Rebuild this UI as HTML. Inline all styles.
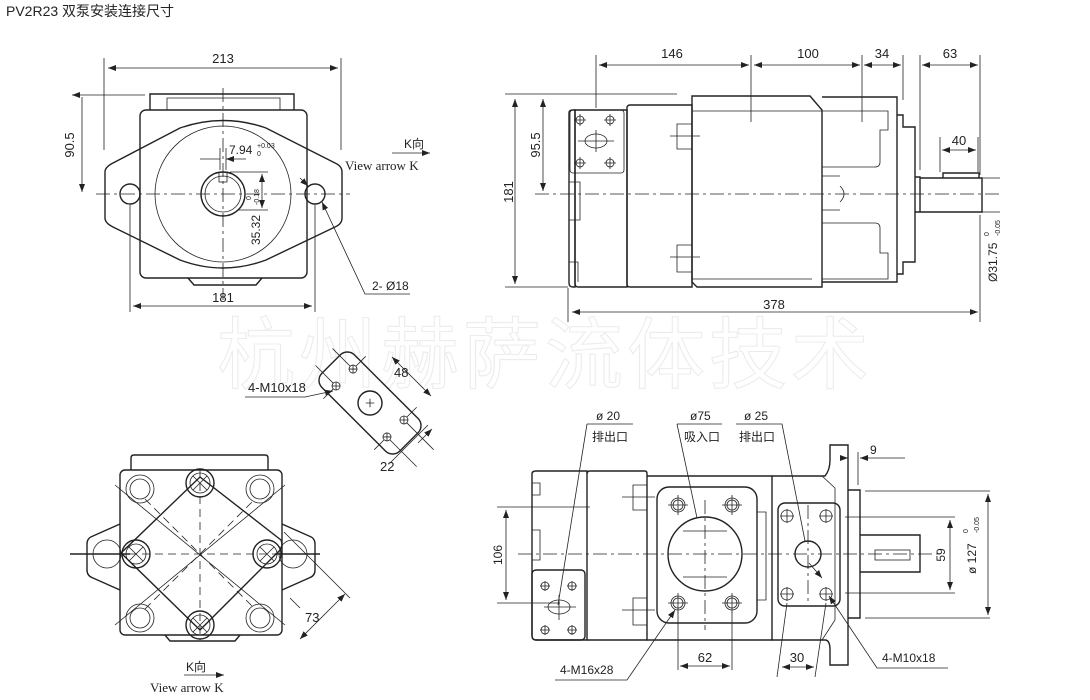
<!DOCTYPE html>
<html><head><meta charset="utf-8"><style>
html,body{margin:0;padding:0;background:#fff}
svg{display:block}
text{font-family:"Liberation Sans","Noto Sans CJK SC",sans-serif;font-size:13px;fill:#222}
.s{font-family:"Liberation Serif","Noto Sans CJK SC",serif}
.o{fill:none;stroke:#222;stroke-width:1.4}
.t{fill:none;stroke:#222;stroke-width:0.8}
.c{fill:none;stroke:#222;stroke-width:0.8;stroke-dasharray:14 4 3 4}
.d{fill:none;stroke:#222;stroke-width:0.8;stroke-dasharray:8 5}
</style></head><body>
<svg width="1090" height="700" viewBox="0 0 1090 700" xmlns="http://www.w3.org/2000/svg">
<defs>
<marker id="a" markerWidth="8" markerHeight="6" refX="8" refY="3" orient="auto-start-reverse" markerUnits="userSpaceOnUse"><path d="M0,0L8,3L0,6z" fill="#222"/></marker>
</defs>
<!-- watermark -->
<text x="545" y="382" text-anchor="middle" style="font-size:78px;fill:none;stroke:#ececec;stroke-width:1.1;letter-spacing:4px">杭州赫萨流体技术</text>

<text x="6" y="16" style="font-size:14px">PV2R23 双泵安装连接尺寸</text>

<!-- ============ TOP LEFT VIEW ============ -->
<path class="o" d="M150,110 V94 H294 V110"/>
<path class="t" d="M167,110 V98 H280 V110"/>
<rect class="o" x="140" y="110" width="167" height="168" rx="6"/>
<path class="o" d="M188,278 L194,285 H256 L262,278"/>
<path class="o" d="M113,163 L180,128 Q223,113 266,128 L335,163 Q342,166 342,172 V218 Q342,224 335,227 L266,260 Q223,276 180,260 L113,227 Q105,223 105,218 V172 Q105,167 113,163Z" fill="#fff"/>
<circle class="t" cx="223" cy="194" r="68"/>
<circle class="o" cx="223" cy="194" r="22"/>
<circle class="t" cx="223" cy="194" r="18"/>
<rect class="t" x="219" y="172" width="8" height="10"/>
<circle class="o" cx="130" cy="194" r="10"/>
<circle class="o" cx="315" cy="194" r="10"/>
<path class="c" d="M96,194 H350 M223,88 V300"/>
<path class="t" d="M130,205 V312 M315,205 V312 M104,58 V150 M341,58 V150"/>
<path class="t" d="M108,68 H338" marker-start="url(#a)" marker-end="url(#a)"/>
<text x="223" y="63" text-anchor="middle">213</text>
<path class="t" d="M133,306 H312" marker-start="url(#a)" marker-end="url(#a)"/>
<text x="223" y="302" text-anchor="middle">181</text>
<path class="t" d="M72,95 H145 M82,97 V192" marker-start="url(#a)" marker-end="url(#a)"/>
<text transform="translate(74,145) rotate(-90)" text-anchor="middle">90.5</text>
<path class="t" d="M220,148 V170 M226,148 V170"/>
<path class="t" d="M200,159 H220 M246,159 H226" marker-end="url(#a)"/>
<text x="229" y="154" style="font-size:12px">7.94</text>
<text x="257" y="148" style="font-size:7px">+0.03</text>
<text x="257" y="156" style="font-size:7px">0</text>
<path class="t" d="M230,172 H268 M238,210 H268"/>
<path class="t" d="M262,174 V208" marker-start="url(#a)" marker-end="url(#a)"/>
<text transform="translate(260,230) rotate(-90)" text-anchor="middle" style="font-size:12px">35.32</text>
<text transform="translate(251,200) rotate(-90)" style="font-size:7px">0</text>
<text transform="translate(259,205) rotate(-90)" style="font-size:7px">-0.18</text>
<path class="t" d="M300,178 L308,186"  marker-end="url(#a)"/>
<path class="t" d="M410,294 H365 L322,202" marker-end="url(#a)"/>
<text x="372" y="290" style="font-size:12px">2- Ø18</text>
<text x="404" y="148" style="font-size:12px">K向</text>
<path class="t" d="M392,153 H430" marker-end="url(#a)"/>
<text x="345" y="170" class="s" style="font-size:13px">View arrow K</text>

<!-- ============ TOP RIGHT VIEW ============ -->
<path class="o" d="M575,110 H627 V287 H578 Q575,287 575,283 Z" fill="#fff"/>
<path class="o" d="M569,113 Q569,110 573,110 H575 V287 H573 Q569,287 569,283 Z"/>
<path class="t" d="M569,182 H580 V220 H569 M569,262 H578 V282"/>
<rect class="t" x="570" y="110" width="54" height="63" rx="3"/>
<path class="o" d="M627,107 Q628,105 630,105 H692 V287 H630 Q627,287 627,284 Z"/>
<path class="o" d="M692,96 H810 L822,110 V287 H697 L692,282 Z"/>
<path class="t" d="M692,111 H822 M692,279 H812"/>
<path class="o" d="M822,97 H897 V282 H822"/>
<path class="t" d="M822,111 H888 V130 H880 V162 Q880,167 875,167 H822 M822,223 H875 Q880,223 880,228 V253 H888 V279 H822"/>
<path class="t" d="M822,176 H840 M822,210 H840 M840,186 Q848,194 840,202"/>
<path class="o" d="M897,115 H903 V127 H915 V262 H903 V274 H897"/>
<path class="o" d="M915,177 H920 V212 H915 M920,178 H982 V212 H920 M943,178 V173 H979 V178"/>
<path class="t" d="M677,124 H692 V149 H677Z M677,245 H692 V272 H677Z"/>
<path class="t" d="M670,136 H700 M670,257 H700"/>
<g class="t">
<circle cx="580" cy="120" r="4"/><circle cx="610" cy="120" r="4"/><circle cx="580" cy="163" r="4"/><circle cx="610" cy="163" r="4"/>
<ellipse cx="596" cy="141" rx="11" ry="7"/>
<path d="M574,120h12M580,114v12M604,120h12M610,114v12M574,163h12M580,157v12M604,163h12M610,157v12M578,141h36M596,130v22"/>
</g>
<path class="c" d="M535,194 H1000"/>
<path class="t" d="M596,55 V108 M751,55 V122 M862,55 V122 M903,55 V100 M920,55 V170 M980,55 V175"/>
<path class="t" d="M599,65 H749" marker-start="url(#a)" marker-end="url(#a)"/>
<text x="672" y="58" text-anchor="middle">146</text>
<path class="t" d="M754,65 H860" marker-start="url(#a)" marker-end="url(#a)"/>
<text x="808" y="58" text-anchor="middle">100</text>
<path class="t" d="M864,65 H901" marker-start="url(#a)" marker-end="url(#a)"/>
<text x="882" y="58" text-anchor="middle">34</text>
<path class="t" d="M922,65 H978" marker-start="url(#a)" marker-end="url(#a)"/>
<text x="950" y="58" text-anchor="middle">63</text>
<path class="t" d="M940,137 V172 M978,137 V172"/>
<path class="t" d="M942,150 H976" marker-start="url(#a)" marker-end="url(#a)"/>
<text x="959" y="145" text-anchor="middle">40</text>
<path class="t" d="M505,94 H677 M505,287 H568"/>
<path class="t" d="M515,99 V284" marker-start="url(#a)" marker-end="url(#a)"/>
<text transform="translate(513,192) rotate(-90)" text-anchor="middle">181</text>
<path class="t" d="M543,99 V191" marker-start="url(#a)" marker-end="url(#a)"/>
<text transform="translate(540,145) rotate(-90)" text-anchor="middle">95.5</text>
<path class="t" d="M568,288 V322 M980,215 V322"/>
<path class="t" d="M572,312 H978" marker-start="url(#a)" marker-end="url(#a)"/>
<text x="774" y="309" text-anchor="middle">378</text>
<path class="t" d="M982,178 H1000 M982,212 H1000"/>
<text transform="translate(997,282) rotate(-90)" style="font-size:12px">Ø31.75</text>
<text transform="translate(989,236) rotate(-90)" style="font-size:7px">0</text>
<text transform="translate(1000,236) rotate(-90)" style="font-size:7px">-0.05</text>

<!-- ============ SMALL DIAMOND ============ -->
<g transform="translate(370,403) rotate(45)">
<rect class="o" x="-55" y="-23" width="110" height="46" rx="10"/>
<circle class="o" cx="0" cy="0" r="12"/>
<path class="t" d="M-3,-3L3,3M-3,3L3,-3"/>
<g class="t">
<circle cx="-36" cy="-12" r="4"/><circle cx="-36" cy="12" r="4"/><circle cx="36" cy="-12" r="4"/><circle cx="36" cy="12" r="4"/>
<path d="M-39,-15l6,6M-39,-9l6,-6M-39,9l6,6M-39,15l6,-6M33,-15l6,6M33,-9l6,-6M33,9l6,6M33,15l6,-6"/>
<path d="M-36,-30V-16M-36,16V30M36,-30V-16M36,16V30M-65,-12H-40M-65,12H-40M40,-12H78M40,12H78"/>
</g>
</g>
<path class="t" d="M392,357 L431,396" marker-start="url(#a)" marker-end="url(#a)"/>
<text x="394" y="377">48</text>
<path class="t" d="M428,425 L390,463" />
<path class="t" d="M418,443 L432,429" marker-end="url(#a)"/>
<text x="380" y="471">22</text>
<path class="t" d="M245,397 H305 L333,391" marker-end="url(#a)"/>
<text x="248" y="392">4-M10x18</text>

<!-- ============ BOTTOM LEFT VIEW ============ -->
<path class="o" d="M131,470 V458 Q131,455 134,455 H265 Q268,455 268,458 V470"/>
<path class="o" d="M120,524 L93,536 Q87,538 87,544 V570 Q87,576 93,578 L120,590 M282,524 L309,536 Q315,538 315,544 V570 Q315,576 309,578 L282,590"/>
<rect class="o" x="120" y="470" width="162" height="165" rx="5" fill="#fff"/>
<path class="o" d="M165,635 L170,641 H235 L240,635"/>
<path class="o" d="M200,477 L281,540 Q284,548 278,552 L200,630 L121,553 Z" fill="#fff"/>
<path class="d" d="M200,470 V640 M116,554 H286 M145,499 L255,609 M145,609 L255,499"/>
<path class="t" d="M115,485 L285,625 M115,625 L285,485"/>
<path class="o" d="M70,554 H130 M275,554 H320"/>
<g class="t">
<circle cx="140" cy="489" r="14"/><circle cx="140" cy="489" r="10"/>
<circle cx="260" cy="489" r="14"/><circle cx="260" cy="489" r="10"/>
<circle cx="140" cy="618" r="14"/><circle cx="140" cy="618" r="10"/>
<circle cx="260" cy="618" r="14"/><circle cx="260" cy="618" r="10"/>
<circle cx="107" cy="554" r="14"/><circle cx="293" cy="554" r="14"/>
</g>
<g fill="#fff" class="o">
<circle cx="200" cy="483" r="14"/><circle cx="200" cy="625" r="14"/><circle cx="136" cy="554" r="14"/><circle cx="267" cy="554" r="14"/>
</g>
<g class="t">
<circle cx="200" cy="483" r="10"/><circle cx="200" cy="625" r="10"/><circle cx="136" cy="554" r="10"/><circle cx="267" cy="554" r="10"/>
<path d="M193,476l14,14M193,490l14,-14M193,618l14,14M193,632l14,-14M129,547l14,14M129,561l14,-14M260,547l14,14M260,561l14,-14"/>
</g>
<path class="t" d="M284,532 L350,598 M290,598 L300,608"/>
<path class="t" d="M345,594 L300,639" marker-start="url(#a)" marker-end="url(#a)"/>
<text x="305" y="622">73</text>
<text x="186" y="671" style="font-size:12px">K向</text>
<path class="t" d="M184,675 H224" marker-end="url(#a)"/>
<text x="150" y="692" class="s" style="font-size:13px">View arrow K</text>

<!-- ============ BOTTOM RIGHT VIEW ============ -->
<path class="o" d="M532,474 Q532,471 536,471 H587 V640 H536 Q532,640 532,636 Z"/>
<path class="t" d="M532,483 H540 V495 H532 M532,530 H540 V560 H532"/>
<path class="o" d="M587,474 Q587,471 590,471 H645 Q647,471 647,474 V640 H587"/>
<path class="o" d="M647,476 H772 V640 H647"/>
<path class="o" d="M772,476 H825 Q830,470 830,460 V445 H848 V665 H830 V650 Q830,640 825,640 H772"/>
<path class="t" d="M772,476 V640 M822,476 L835,488 V620 L822,640"/>
<path class="o" d="M848,490 H860 V618 H848"/>
<path class="o" d="M860,535 H920 V572 H860"/>
<rect class="t" x="875" y="550" width="35" height="10"/>
<path class="t" d="M633,485 H647 V510 H633Z M633,598 H647 V625 H633Z M622,497 H655 M622,610 H655"/>
<rect class="o" x="657" y="487" width="100" height="136" rx="12"/>
<path class="t" d="M757,512 H766 V600 H757"/>
<circle class="o" cx="705" cy="554" r="37"/>
<path class="t" d="M683,531 H727 M683,577 H727"/>
<rect class="o" x="778" y="503" width="62" height="103" rx="7"/>
<circle class="o" cx="808" cy="554" r="13"/>
<rect class="o" x="532" y="570" width="53" height="70" rx="4" fill="#fff"/>
<ellipse class="t" cx="559" cy="607" rx="11" ry="7"/>
<g class="t">
<circle cx="545" cy="586" r="4"/><circle cx="572" cy="586" r="4"/><circle cx="545" cy="630" r="4"/><circle cx="572" cy="630" r="4"/>
<path d="M540,586h10M545,581v10M567,586h10M572,581v10M540,630h10M545,625v10M567,630h10M572,625v10M544,607h32M559,595v25"/>
<circle cx="678" cy="505" r="7"/><circle cx="678" cy="505" r="5"/><circle cx="732" cy="505" r="7"/><circle cx="732" cy="505" r="5"/>
<circle cx="678" cy="603" r="7"/><circle cx="678" cy="603" r="5"/><circle cx="732" cy="603" r="7"/><circle cx="732" cy="603" r="5"/>
<path d="M668,505h20M678,495v20M722,505h20M732,495v20M668,603h20M678,593v20M722,603h20M732,593v20"/>
<circle cx="787" cy="516" r="6"/><circle cx="826" cy="516" r="6"/><circle cx="787" cy="594" r="6"/><circle cx="826" cy="594" r="6"/>
<path d="M780,516h14M787,509v14M819,516h14M826,509v14M780,594h14M787,587v14M819,594h14M826,587v14"/>
</g>
<path class="c" d="M518,554 H940 M705,500 V630 M808,505 V605"/>
<path class="t" d="M497,507 H590 M497,603 H560"/>
<path class="t" d="M506,510 V600" marker-start="url(#a)" marker-end="url(#a)"/>
<text transform="translate(502,555) rotate(-90)" text-anchor="middle" style="font-size:12px">106</text>
<text x="596" y="420" style="font-size:12px">ø 20</text>
<text x="592" y="441" style="font-size:12px">排出口</text>
<path class="t" d="M587,424 H633 M587,424 L558,605"/>
<text x="690" y="420" style="font-size:12px">ø75</text>
<text x="684" y="441" style="font-size:12px">吸入口</text>
<path class="t" d="M677,424 H722 M677,424 L697,518"/>
<text x="744" y="420" style="font-size:12px">ø 25</text>
<text x="739" y="441" style="font-size:12px">排出口</text>
<path class="t" d="M736,424 H782 L805,541"/>
<path class="t" d="M678,612 V670 M732,612 V670"/>
<path class="t" d="M680,666 H730" marker-start="url(#a)" marker-end="url(#a)"/>
<text x="705" y="662" text-anchor="middle">62</text>
<path class="t" d="M787,603 L777,677 M826,603 L815,677"/>
<path class="t" d="M782,667 H814" marker-start="url(#a)" marker-end="url(#a)"/>
<text x="797" y="662" text-anchor="middle">30</text>
<path class="t" d="M555,680 H627 L675,610" marker-end="url(#a)"/>
<text x="560" y="674" style="font-size:12px">4-M16x28</text>
<path class="t" d="M948,668 H877 L829,596" marker-end="url(#a)"/>
<text x="882" y="662" style="font-size:12px">4-M10x18</text>
<path class="t" d="M809,563 L822,578" marker-end="url(#a)"/>
<path class="t" d="M858,452 V485"/>
<path class="t" d="M840,458 H848" marker-end="url(#a)"/>
<path class="t" d="M905,458 H860" marker-end="url(#a)"/>
<text x="870" y="454" style="font-size:12px">9</text>
<path class="t" d="M865,491 H990 M865,618 H990 M845,517 H955 M845,593 H955"/>
<path class="t" d="M950,520 V590" marker-start="url(#a)" marker-end="url(#a)"/>
<text transform="translate(945,555) rotate(-90)" text-anchor="middle" style="font-size:12px">59</text>
<path class="t" d="M988,494 V615" marker-start="url(#a)" marker-end="url(#a)"/>
<text transform="translate(976,574) rotate(-90)" style="font-size:12px">ø 127</text>
<text transform="translate(968,533) rotate(-90)" style="font-size:7px">0</text>
<text transform="translate(979,533) rotate(-90)" style="font-size:7px">-0.05</text>
</svg>
</body></html>
